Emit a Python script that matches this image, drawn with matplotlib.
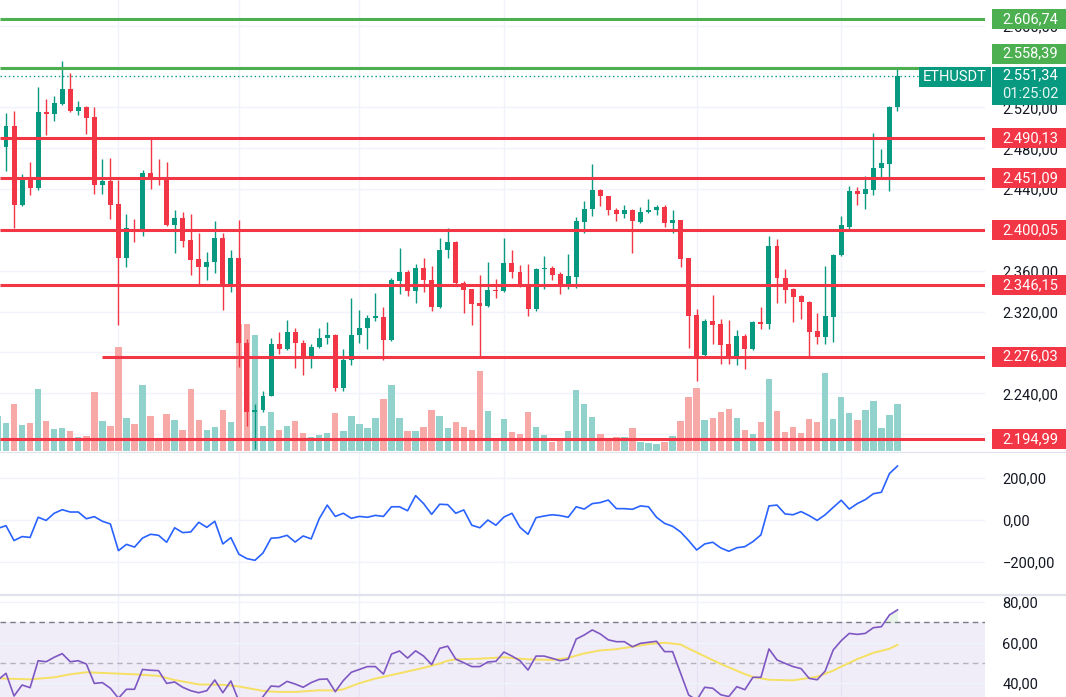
import numpy as np
import matplotlib
matplotlib.use("Agg")
import matplotlib.pyplot as plt
from matplotlib.patches import Rectangle
from matplotlib.lines import Line2D
from matplotlib.transforms import blended_transform_factory

plt.rcParams['font.family'] = ['Roboto', 'DejaVu Sans']

# ---------------- data ----------------
candle_idx = list(range(-1, 112))
opens = [2476.0, 2481.0, 2502.2, 2424.9, 2451.0, 2441.2, 2515.5, 2513.6, 2523.7, 2538.3,
         2516.2, 2520.1, 2510.3, 2443.8, 2448.4, 2425.9, 2372.1, 2399.8, 2398.2, 2456.2,
         2450.3, 2450.3, 2404.7, 2411.9, 2390.1, 2371.2, 2363.7, 2368.9, 2392.3, 2344.2,
         2372.8, 2289.7, 2221.9, 2223.5, 2237.5, 2288.1, 2283.2, 2300.5, 2289.7, 2273.4,
         2285.4, 2293.9, 2296.9, 2245.7, 2272.4, 2296.9, 2304.4, 2314.2, 2315.1, 2292.3,
         2350.0, 2359.1, 2340.2, 2363.0, 2351.3, 2324.5, 2380.0, 2388.5, 2348.4, 2341.8,
         2328.1, 2325.5, 2341.3, 2340.2, 2367.9, 2359.1, 2346.0, 2322.3, 2361.9, 2362.4,
         2356.5, 2347.4, 2353.9, 2408.0, 2420.4, 2439.6, 2433.7, 2420.0, 2416.1, 2419.1,
         2408.0, 2417.4, 2419.1, 2423.0, 2406.4, 2409.3, 2372.2, 2316.4, 2277.6, 2310.8,
         2307.6, 2288.1, 2275.1, 2296.2, 2283.2, 2309.8, 2308.2, 2384.2, 2353.3, 2341.8,
         2335.3, 2329.8, 2301.1, 2295.2, 2314.8, 2375.4, 2403.1, 2438.6, 2435.4, 2439.6,
         2460.8, 2465.0, 2520.0]
highs = [2484.0, 2514.5, 2516.2, 2455.2, 2466.6, 2540.3, 2528.5, 2531.5, 2565.7, 2553.6,
         2525.9, 2521.0, 2520.1, 2469.9, 2470.5, 2449.4, 2415.2, 2411.2, 2459.1, 2489.1,
         2469.9, 2466.3, 2419.1, 2417.8, 2415.2, 2396.6, 2378.7, 2408.6, 2397.2, 2380.0,
         2409.6, 2293.0, 2229.4, 2242.4, 2293.9, 2299.8, 2311.5, 2304.4, 2291.9, 2288.7,
         2304.4, 2309.4, 2298.5, 2283.2, 2333.7, 2321.3, 2316.4, 2338.6, 2324.9, 2353.0,
         2381.9, 2360.4, 2366.3, 2372.2, 2364.3, 2391.7, 2401.5, 2389.7, 2349.7, 2342.5,
         2355.8, 2368.9, 2351.6, 2391.7, 2380.0, 2365.6, 2367.0, 2362.5, 2374.4, 2364.6,
         2359.1, 2376.0, 2412.9, 2428.8, 2465.0, 2440.6, 2433.7, 2421.7, 2424.0, 2421.0,
         2422.7, 2430.8, 2424.9, 2424.0, 2419.1, 2409.3, 2372.2, 2322.3, 2312.5, 2336.3,
         2312.5, 2311.5, 2301.7, 2298.5, 2310.8, 2324.5, 2393.9, 2390.7, 2361.4, 2343.5,
         2336.0, 2330.4, 2319.0, 2364.6, 2376.7, 2413.5, 2442.8, 2441.8, 2452.6, 2495.0,
         2479.7, 2521.7, 2557.9]
lows = [2470.0, 2457.5, 2402.1, 2423.9, 2434.0, 2439.0, 2493.4, 2506.4, 2522.7, 2515.5,
        2512.9, 2494.3, 2435.7, 2435.7, 2411.2, 2307.0, 2363.7, 2388.1, 2394.0, 2439.9,
        2443.8, 2404.0, 2377.0, 2383.2, 2355.8, 2347.4, 2351.3, 2358.1, 2321.6, 2339.6,
        2265.3, 2207.6, 2185.0, 2221.3, 2237.2, 2278.3, 2282.2, 2264.6, 2258.0, 2264.6,
        2284.2, 2288.7, 2241.8, 2241.8, 2267.8, 2289.7, 2283.2, 2310.8, 2272.4, 2291.3,
        2337.6, 2335.3, 2328.8, 2339.6, 2320.6, 2323.9, 2372.2, 2345.5, 2319.0, 2306.9,
        2276.6, 2324.5, 2333.0, 2339.6, 2352.6, 2344.1, 2315.7, 2321.0, 2341.8, 2350.6,
        2337.6, 2341.8, 2343.5, 2397.3, 2413.5, 2423.3, 2414.5, 2408.6, 2411.9, 2377.0,
        2407.0, 2416.8, 2414.2, 2402.7, 2397.3, 2363.6, 2284.2, 2252.2, 2276.6, 2288.7,
        2269.2, 2269.2, 2267.8, 2263.6, 2282.2, 2302.7, 2302.7, 2328.8, 2328.8, 2309.8,
        2312.5, 2276.6, 2288.1, 2288.1, 2290.7, 2374.4, 2400.5, 2424.2, 2421.0, 2434.0,
        2451.6, 2437.9, 2516.8]
closes = [2480.0, 2502.2, 2424.9, 2451.6, 2441.2, 2515.5, 2513.6, 2524.3, 2538.3, 2516.2,
          2520.1, 2509.7, 2443.8, 2448.4, 2424.9, 2372.1, 2401.5, 2397.9, 2456.2, 2450.3,
          2449.7, 2404.7, 2411.9, 2389.1, 2370.5, 2363.7, 2368.9, 2392.3, 2345.1, 2372.8,
          2289.7, 2221.9, 2223.5, 2237.5, 2288.1, 2283.2, 2300.5, 2289.7, 2273.4, 2285.8,
          2294.6, 2296.9, 2245.7, 2272.4, 2296.9, 2304.4, 2314.2, 2314.8, 2292.3, 2350.6,
          2359.1, 2340.2, 2363.0, 2350.6, 2324.5, 2380.6, 2388.5, 2348.4, 2340.9, 2327.9,
          2325.5, 2340.9, 2340.5, 2367.9, 2358.7, 2345.1, 2322.3, 2361.4, 2362.4, 2355.8,
          2346.7, 2354.8, 2408.6, 2421.0, 2439.6, 2433.0, 2419.4, 2416.1, 2419.1, 2408.6,
          2417.8, 2420.0, 2423.0, 2406.4, 2409.3, 2371.2, 2315.7, 2276.6, 2310.8, 2306.9,
          2287.4, 2275.1, 2296.2, 2283.2, 2309.8, 2308.2, 2384.2, 2352.6, 2340.9, 2334.3,
          2329.4, 2300.5, 2295.2, 2315.7, 2375.4, 2404.7, 2438.6, 2435.4, 2440.6, 2460.8,
          2465.7, 2520.7, 2551.34]
volumes = [35, 28, 47, 26, 28, 62, 30, 22, 23, 20, 14, 15, 59, 30, 25, 104, 33, 27, 66, 35,
           13, 37, 31, 21, 62, 31, 21, 24, 41, 29, 127, 127, 116, 25, 39, 21, 25, 30, 18, 14,
           16, 18, 38, 20, 35, 27, 23, 33, 52, 66, 33, 20, 20, 24, 41, 35, 23, 29, 24, 21,
           80, 40, 12, 32, 19, 17, 39, 24, 16, 9, 13, 20, 61, 47, 34, 17, 12, 14, 14, 23,
           9, 8, 7, 9, 15, 30, 54, 63, 31, 33, 39, 42, 33, 21, 17, 29, 72, 40, 19, 24,
           18, 32, 29, 78, 32, 54, 38, 31, 41, 50, 23, 36, 47]
cci = [-40, -27, -98, -79, -83, 13, -2, 32, 49, 38, 38, 6, 16, -6, -19, -146, -116, -129, -86, -68,
       -73, -106, -37, -60, -57, -11, -35, -6, -114, -84, -163, -184, -192, -157, -87, -84, -73, -105, -76, -90,
       6, 71, 17, 32, 8, 17, 13, 22, 17, 63, 63, 44, 116, 78, 27, 75, 73, 32, 48, -25,
       -37, 0, -25, 14, 32, -35, -68, 11, 19, 25, 21, 13, 63, 52, 78, 83, 95, 54, 54, 51,
       67, 63, 13, -16, -30, -57, -98, -143, -114, -106, -133, -149, -132, -127, -103, -71, 67, 71, 29, 25,
       40, 21, -2, 25, 60, 94, 52, 78, 97, 125, 132, 221, 257]
rsi = [41.5, 44.8, 33.6, 39.0, 37.7, 51.0, 50.5, 52.7, 54.5, 50.5, 51.0, 49.4, 39.8, 40.2, 37.4, 32.5,
       36.9, 36.9, 46.7, 46.3, 46.1, 39.8, 40.5, 37.9, 36.2, 35.2, 36.2, 41.5, 35.2, 41.0, 31.0, 27.5,
       27.0, 33.3, 38.5, 38.2, 40.8, 39.5, 37.9, 40.2, 41.8, 42.0, 35.7, 41.2, 45.3, 46.7, 48.1, 48.1,
       44.4, 54.3, 55.8, 52.3, 55.9, 53.3, 49.1, 57.1, 58.2, 51.8, 50.0, 48.1, 48.1, 50.4, 50.7, 55.3,
       53.3, 51.0, 46.4, 53.3, 53.3, 52.2, 51.0, 51.8, 61.7, 63.7, 66.2, 64.2, 61.3, 60.4, 60.4, 57.9,
       59.6, 60.1, 60.6, 55.5, 55.5, 44.8, 34.1, 31.5, 37.9, 37.4, 34.2, 33.3, 38.2, 36.7, 42.8, 42.8,
       56.8, 51.4, 49.7, 48.1, 47.1, 42.3, 41.6, 45.9, 56.3, 60.9, 64.5, 64.0, 64.5, 67.3, 67.8, 73.6,
       76.1]
rsi_ma_idx = [-1, 3, 6, 8, 10, 13, 16, 19, 21, 24, 27, 29, 32, 34, 36, 39, 41, 42, 44, 46, 49, 52,
              54, 55, 56, 59, 62, 64, 65, 68, 70, 72, 74, 76, 78, 80, 82, 84, 85, 87, 89, 92, 93,
              95, 98, 99, 101, 103, 104, 106, 108, 110, 111]
rsi_ma = [42.3, 41.8, 42.8, 44.3, 45.3, 44.8, 44.3, 43.5, 41.5, 39.3, 39.1, 38.3, 36.1, 35.6, 35.6,
          36.4, 36.3, 36.9, 39.9, 42.2, 44.8, 47.5, 49.6, 51.0, 51.7, 52.0, 52.7, 52.0, 51.7, 51.4,
          52.4, 54.6, 56.1, 56.7, 57.9, 59.2, 59.9, 59.0, 57.0, 53.2, 49.4, 44.4, 43.0, 41.6, 41.3,
          41.9, 43.1, 46.1, 48.1, 51.8, 54.9, 56.9, 58.8]

levels_green = [2606.74, 2558.39]
levels_red = [2490.13, 2451.09, 2400.05, 2346.15, 2276.03, 2194.99]
level_start_idx = {2276.03: 12}
last_price = 2551.34
countdown = "01:25:02"
symbol = "ETHUSDT"
price_ticks = [2200, 2240, 2280, 2320, 2360, 2400, 2440, 2480, 2520, 2560, 2600]
hidden_price_labels = [2280, 2400, 2560]   # fully covered by level labels
cci_ticks = [-200, 0, 200]
rsi_ticks = [40, 60, 80]
time_grid_idx = [14, 29, 44, 62, 86, 104]

# ---------------- style ----------------
UP, DN = '#089981', '#f23645'
VUP, VDN = '#92d2cc', '#f7a9a7'
GREEN = '#4caf50'
GRID = '#f0f3fa'
TXT = '#131722'
FS = 10.5

W, H = 1066, 697
fig = plt.figure(figsize=(W / 100, H / 100), dpi=100)
fig.patch.set_facecolor('white')
PLOT_R = 985


def rect(top, bottom):
    return [0, 1 - bottom / H, PLOT_R / W, (bottom - top) / H]


def fmt(v):
    s = f"{v:,.2f}".replace(',', 'X').replace('.', ',').replace('X', '.')
    return s.replace('-', '\u2212')


XL = (-0.747, 121.9)

ax_v = fig.add_axes(rect(0, 451))
ax = fig.add_axes(rect(0, 451), sharex=ax_v)
ax_v.set_zorder(1)
ax.set_zorder(2)
ax.patch.set_visible(False)
ax_c = fig.add_axes(rect(453, 594), sharex=ax_v)
ax_r = fig.add_axes(rect(596, 697), sharex=ax_v)

for a in (ax_v, ax, ax_c, ax_r):
    for s in a.spines.values():
        s.set_visible(False)
    a.set_xticks([])
    a.tick_params(axis='x', length=0)
ax_v.set_xlim(*XL)

ax.set_ylim(2183.5, 2625.3)
ax_v.set_ylim(0, 451)
ax_v.set_yticks([])
ax_c.set_ylim(-352.4, 319.0)
ax_r.set_ylim(33.09, 82.96)

x = np.array(candle_idx)
o, h, l, c = (np.array(v, float) for v in (opens, highs, lows, closes))
up = c >= o
col = np.where(up, UP, DN)
vcol = np.where(up, VUP, VDN)

# grid (behind volume)
bt = blended_transform_factory(ax_v.transAxes, ax.transData)
for t in price_ticks:
    ax_v.plot([0, 1], [t, t], transform=bt, color=GRID, lw=1, zorder=0)
for a in (ax_v, ax_c, ax_r):
    for g in time_grid_idx:
        a.axvline(g, color=GRID, lw=1, zorder=0)

# volume
ax_v.bar(x, volumes, width=0.8, color=vcol, linewidth=0, zorder=2)

# candles
ax.vlines(x, l, h, colors=col, lw=1.0, zorder=3)
ax.bar(x, np.maximum(np.abs(c - o), 1.2), bottom=np.minimum(o, c), width=0.62,
       color=col, linewidth=0, zorder=4)

# levels
for lv in levels_green:
    ax.hlines(lv, XL[0], XL[1], colors=GREEN, lw=2.2, zorder=5)
for lv in levels_red:
    ax.hlines(lv, level_start_idx.get(lv, XL[0]), XL[1], colors=DN, lw=2.2, zorder=5)
ax.axhline(last_price, color=UP, lw=1.0, ls=(0, (1, 2)), zorder=2)

# price axis labels
ax.yaxis.tick_right()
ax.set_yticks(price_ticks)
ax.set_yticklabels(['' if t in hidden_price_labels else fmt(t) for t in price_ticks])
ax.tick_params(axis='y', length=0, pad=12.5, labelsize=FS, labelcolor=TXT)

# CCI
for t in cci_ticks:
    ax_c.axhline(t, color=GRID, lw=1, zorder=0)
ax_c.plot(x, cci, color='#2962ff', lw=1.2, zorder=3)
ax_c.yaxis.tick_right()
ax_c.set_yticks(cci_ticks)
ax_c.set_yticklabels([fmt(t) for t in cci_ticks])
ax_c.tick_params(axis='y', length=0, pad=12.5, labelsize=FS, labelcolor=TXT)

# RSI
ax_r.axhspan(30, 70, color='#7e57c2', alpha=0.1, lw=0, zorder=0)
for t in rsi_ticks:
    ax_r.axhline(t, color=GRID, lw=1, zorder=0)
ax_r.axhline(70, color='#787b86', lw=1, ls=(0, (4, 3)), zorder=1)
ax_r.axhline(50, color='#787b86', lw=1, ls=(0, (4, 3)), alpha=0.5, zorder=1)
rs = np.array(rsi, float)
ax_r.fill_between(x, 70, rs, where=rs > 70, interpolate=True, color=GREEN, alpha=0.12, lw=0)
ax_r.plot(rsi_ma_idx, rsi_ma, color='#f5e063', lw=1.4, zorder=2)
ax_r.plot(x, rsi, color='#7e57c2', lw=1.2, zorder=3)
ax_r.yaxis.tick_right()
ax_r.set_yticks(rsi_ticks)
ax_r.set_yticklabels([fmt(t) for t in rsi_ticks])
ax_r.tick_params(axis='y', length=0, pad=12.5, labelsize=FS, labelcolor=TXT)

# ---------------- overlay labels ----------------
ov = fig.add_axes([0, 0, 1, 1], zorder=20)
ov.set_xlim(0, W)
ov.set_ylim(H, 0)
ov.axis('off')
ov.patch.set_visible(False)


def ypix(a, v):
    return H - a.transData.transform((0, v))[1]


BX0, BX1, BH = 992, W, 20
TX = 1002

# separators
ov.add_line(Line2D([0, W], [452, 452], color='#e0e3eb', lw=0.8))
ov.add_line(Line2D([0, W], [595, 595], color='#e0e3eb', lw=1.6))

# current price box
py = ypix(ax, last_price)
p_top = py - 9
ov.add_patch(Rectangle((BX0, p_top), BX1 - BX0, 38, facecolor=UP, edgecolor='none'))
ov.text(TX, py, fmt(last_price), color='white', fontsize=FS, va='center', ha='left')
ov.text(TX, py + 18, countdown, color='#e6f5f2', fontsize=FS, va='center', ha='left')
ov.add_patch(Rectangle((919, p_top), 72, BH, facecolor=UP, edgecolor='none'))
ov.text(955, p_top + BH / 2, symbol, color='white', fontsize=FS, va='center', ha='center')

for lv, color in [(v, GREEN) for v in levels_green] + [(v, DN) for v in levels_red]:
    yc = ypix(ax, lv)
    if yc + BH / 2 > p_top and yc - BH / 2 < p_top + 38:
        yc = p_top - 3 - BH / 2
    ov.add_patch(Rectangle((BX0, yc - BH / 2), BX1 - BX0, BH, facecolor=color, edgecolor='none'))
    ov.text(TX, yc, fmt(lv), color='white', fontsize=FS, va='center', ha='left')

fig.savefig('out.png', dpi=100, facecolor='white')
